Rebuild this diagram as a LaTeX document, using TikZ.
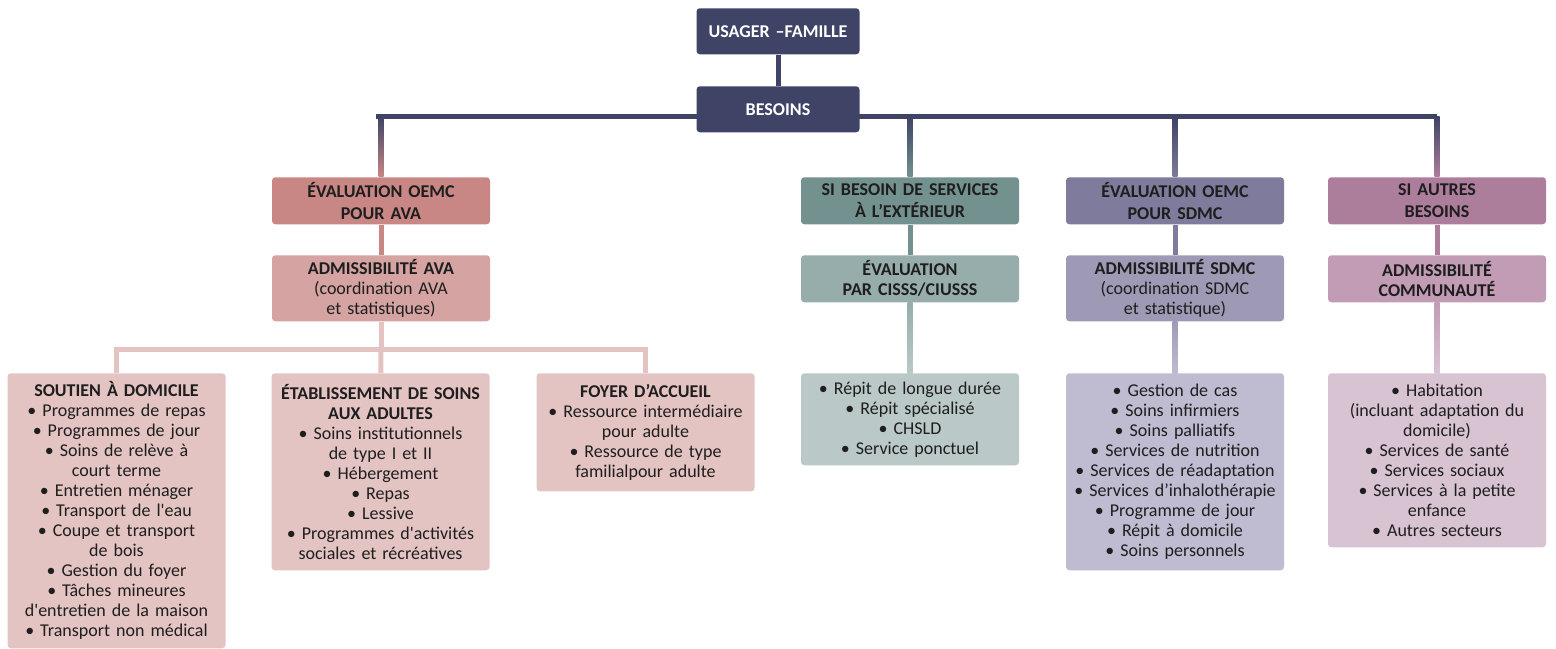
\documentclass[tikz,border=0pt]{standalone}
\usepackage{fontspec}
\setmainfont{Carlito}
\usetikzlibrary{calc,backgrounds}

\definecolor{navy}{HTML}{3F4466}
\definecolor{roseA}{HTML}{C88684}
\definecolor{roseB}{HTML}{D4A3A2}
\definecolor{roseC}{HTML}{E4C4C3}
\definecolor{tealA}{HTML}{73918E}
\definecolor{tealB}{HTML}{97ADAB}
\definecolor{tealC}{HTML}{BAC9C7}
\definecolor{lilaA}{HTML}{7F7B9C}
\definecolor{lilaB}{HTML}{9E9AB5}
\definecolor{lilaC}{HTML}{BFBCD1}
\definecolor{mauveA}{HTML}{AD7D9C}
\definecolor{mauveB}{HTML}{C29BB5}
\definecolor{mauveC}{HTML}{D8C3D3}
\definecolor{ink}{HTML}{1E1E1E}

\tikzset{
  boxbase/.style={rounded corners=2.5pt, align=center, inner sep=0pt,
    anchor=north, text width=160pt, minimum width=163.5pt, text=ink},
  rootbox/.style={boxbase, fill=navy, text=white, text width=115pt,
    minimum width=122.25pt, minimum height=34.5pt,
    font=\fontsize{13.5}{16}\selectfont\bfseries},
  headbox/.style={boxbase, fill=#1, minimum height=35.25pt,
    font=\fontsize{13.5}{16.5}\selectfont\bfseries},
  admbox/.style={boxbase, fill=#1, font=\fontsize{13.5}{15}\selectfont},
  listbox/.style={boxbase, fill=#1, font=\fontsize{13.5}{15}\selectfont},
  link/.style={line width=3.75pt, draw=#1},
}

\begin{document}
\begin{tikzpicture}[x=0.75pt, y=-0.75pt]
  \useasboundingbox (0,0) rectangle (1556,649);

  % racine
  \node[rootbox] (usager) at (778,8) {USAGER –FAMILLE};
  \node[rootbox] (besoins) at (778,86) {BESOINS};

  % premier niveau
  \node[headbox=roseA] (evalava) at (381,177) {ÉVALUATION OEMC\\POUR AVA};
  \node[headbox=tealA] (exterieur) at (910,177) {SI BESOIN DE SERVICES\\À L’EXTÉRIEUR};
  \node[headbox=lilaA] (evalsdmc) at (1175,177) {ÉVALUATION OEMC\\POUR SDMC};
  \node[headbox=mauveA] (autres) at (1437,177) {SI AUTRES\\BESOINS};

  % deuxieme niveau
  \node[admbox=roseB, minimum height=49.5pt] (admava) at (381,255)
    {\textbf{ADMISSIBILITÉ AVA}\\(coordination AVA\\et statistiques)};
  \node[admbox=tealB, minimum height=35.25pt] (cisss) at (910,255)
    {\textbf{ÉVALUATION}\\\textbf{PAR CISSS/CIUSSS}};
  \node[admbox=lilaB, minimum height=49.5pt] (admsdmc) at (1175,255)
    {\textbf{ADMISSIBILITÉ SDMC}\\(coordination SDMC\\et statistique)};
  \node[admbox=mauveB, minimum height=35.25pt] (admcomm) at (1437,255)
    {\textbf{ADMISSIBILITÉ}\\\textbf{COMMUNAUTÉ}};

  % listes
  \node[listbox=roseC, minimum height=206.25pt] (domicile) at (116.5,373)
    {\textbf{SOUTIEN À DOMICILE}\\
     \textbullet\ Programmes de repas\\
     \textbullet\ Programmes de jour\\
     \textbullet\ Soins de relève à\\court terme\\
     \textbullet\ Entretien ménager\\
     \textbullet\ Transport de l\textquotesingle eau\\
     \textbullet\ Coupe et transport\\de bois\\
     \textbullet\ Gestion du foyer\\
     \textbullet\ Tâches mineures\\d\textquotesingle entretien de la maison\\
     \textbullet\ Transport non médical};
  \node[listbox=roseC, minimum height=147.75pt] (etablissement) at (380.5,373)
    {\textbf{ÉTABLISSEMENT DE SOINS}\\\textbf{AUX ADULTES}\\
     \textbullet\ Soins institutionnels\\de type I et II\\
     \textbullet\ Hébergement\\
     \textbullet\ Repas\\
     \textbullet\ Lessive\\
     \textbullet\ Programmes d\textquotesingle activités\\sociales et récréatives};
  \node[listbox=roseC, minimum height=88.5pt] (foyer) at (645.5,373)
    {\textbf{FOYER D’ACCUEIL}\\
     \textbullet\ Ressource intermédiaire\\pour adulte\\
     \textbullet\ Ressource de type\\familialpour adulte};
  \node[listbox=tealC, minimum height=69pt] (repit) at (910,373)
    {\textbullet\ Répit de longue durée\\
     \textbullet\ Répit spécialisé\\
     \textbullet\ CHSLD\\
     \textbullet\ Service ponctuel};
  \node[listbox=lilaC, minimum height=147.75pt] (services) at (1175,373)
    {\textbullet\ Gestion de cas\\
     \textbullet\ Soins infirmiers\\
     \textbullet\ Soins palliatifs\\
     \textbullet\ Services de nutrition\\
     \textbullet\ Services de réadaptation\\
     \textbullet\ Services d’inhalothérapie\\
     \textbullet\ Programme de jour\\
     \textbullet\ Répit à domicile\\
     \textbullet\ Soins personnels};
  \node[listbox=mauveC, minimum height=130.5pt] (communaute) at (1437,373)
    {\textbullet\ Habitation\\
     (incluant adaptation du\\domicile)\\
     \textbullet\ Services de santé\\
     \textbullet\ Services sociaux\\
     \textbullet\ Services à la petite\\enfance\\
     \textbullet\ Autres secteurs};

  \begin{scope}[on background layer]
    \coordinate (busL) at (evalava.north |- 0,117);
    \coordinate (busR) at (autres.north |- 0,117);
    \coordinate (avabus) at (admava.south |- 0,349);
    \draw[link=navy] (usager) -- (besoins);
    \draw[link=navy] ($(busL)+(-2.5,-2.5)$) -- ($(busL)+(-2.5,0)$) -- (busR);
    \foreach \tgt/\col in {evalava/roseA, exterieur/tealA, evalsdmc/lilaA, autres/mauveA}
      \shade[top color=navy, bottom color=\col]
        ($(\tgt.north |- busL)+(-2.5,0)$) rectangle ($(\tgt.north)+(2.5,0)$);
    \foreach \src/\tgt/\col in {evalava/admava/roseA, exterieur/cisss/tealA,
        evalsdmc/admsdmc/lilaA, autres/admcomm/mauveA}
      \draw[link=\col] (\src) -- (\tgt);
    % branche AVA
    \draw[link=roseC] (admava) -- (avabus);
    \draw[link=roseC] (domicile.north) -- (domicile.north |- avabus)
      -- (foyer.north |- avabus) -- (foyer.north);
    \draw[link=roseC] (avabus) -- (etablissement);
    \foreach \src/\tgt/\top/\bot in {cisss/repit/tealB/tealC,
        admsdmc/services/lilaB/lilaC, admcomm/communaute/mauveB/mauveC}
      \shade[top color=\top, bottom color=\bot]
        ($(\src.south)+(-2.5,0)$) rectangle ($(\tgt.north)+(2.5,0)$);
  \end{scope}
\end{tikzpicture}
\end{document}
